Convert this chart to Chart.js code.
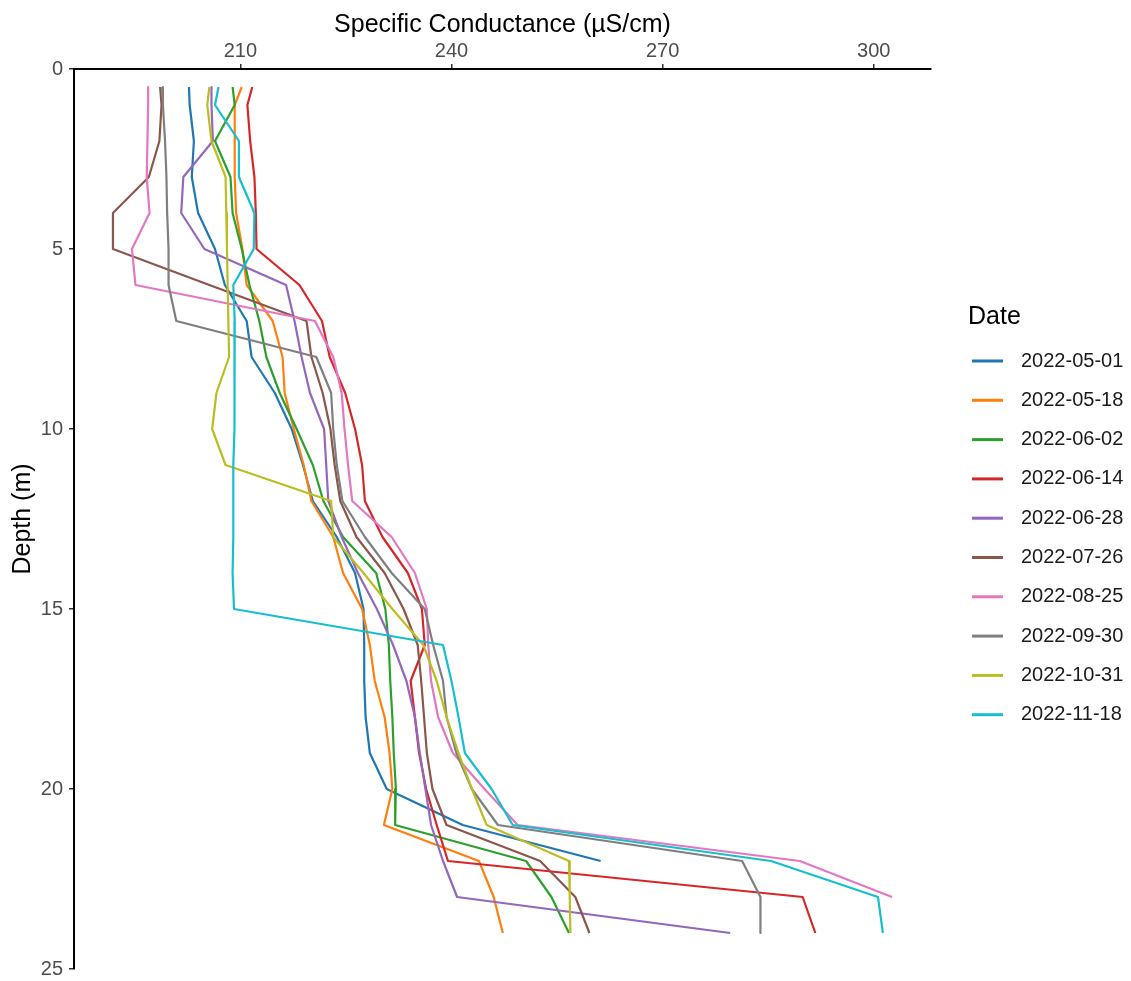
<!DOCTYPE html>
<html>
<head>
<meta charset="utf-8">
<script src="https://cdn.jsdelivr.net/npm/chart.js@4.4.1/dist/chart.umd.min.js"></script>
<style>
  html, body { margin: 0; padding: 0; background: #fff; }
  #wrap { width: 1131px; height: 981px; }
</style>
</head>
<body>
<div id="wrap"><canvas id="profileChart" width="1131" height="981"></canvas></div>
<script>
// sampling depths (m)
const depths = [0.5, 1, 2, 3, 4, 5, 6, 7, 8, 9, 10, 11, 12, 13, 14, 15, 16, 17, 18, 19, 20, 21, 22, 23, 24];

const dates = ['2022-05-01', '2022-05-18', '2022-06-02', '2022-06-14', '2022-06-28',
               '2022-07-26', '2022-08-25', '2022-09-30', '2022-10-31', '2022-11-18'];

// specific conductance (µS/cm) per profile, top to bottom
const sc0501 = [202.7, 202.8, 203.4, 203.1, 204.0, 206.4, 207.8, 210.9, 211.6, 214.9, 217.3, 218.9, 220.3, 223.7, 226.3, 227.5, 227.6, 227.6, 227.8, 228.4, 230.8, 241.6, 261.2];
const sc0518 = [210.2, 209.2, 209.2, 209.2, 209.4, 210.3, 210.9, 214.6, 216.0, 216.3, 217.6, 219.0, 220.1, 223.2, 224.6, 227.3, 228.4, 229.1, 230.5, 231.2, 231.6, 230.4, 243.9, 246.0, 247.3];
const sc0602 = [208.9, 209.2, 206.4, 208.6, 208.9, 210.2, 211.3, 212.7, 213.7, 215.6, 218.0, 220.3, 221.8, 224.6, 229.3, 230.6, 231.1, 231.3, 231.6, 231.8, 232.1, 232.0, 250.6, 254.2, 256.7];
const sc0614 = [211.7, 211.0, 211.4, 212.0, 212.2, 212.3, 218.4, 221.6, 222.7, 224.9, 226.3, 227.3, 227.7, 230.2, 233.8, 235.8, 236.2, 234.2, 234.8, 235.4, 236.4, 237.9, 239.5, 289.9, 291.7];
const sc0628 = [205.9, 205.9, 206.1, 201.9, 201.6, 204.9, 216.5, 217.7, 218.7, 219.9, 221.9, 222.2, 222.5, 224.4, 226.7, 229.4, 231.7, 233.6, 234.8, 235.5, 236.3, 237.1, 238.8, 240.8, 279.6];
const sc0726 = [198.6, 198.8, 198.5, 197.0, 191.9, 191.9, 205.6, 219.4, 220.1, 221.7, 222.8, 223.4, 224.2, 226.5, 230.5, 233.2, 235.2, 235.7, 236.1, 236.5, 237.3, 239.3, 252.6, 257.6, 259.6];
const sc0825 = [196.9, 196.9, 196.8, 196.7, 197.1, 194.6, 195.1, 220.6, 223.2, 224.4, 224.8, 225.3, 225.9, 231.5, 234.8, 236.5, 236.7, 237.1, 238.1, 240.2, 244.7, 249.4, 289.5, 302.6];
const sc0930 = [198.9, 199.0, 199.3, 199.5, 199.6, 199.8, 199.8, 200.9, 220.8, 222.9, 223.2, 223.7, 224.5, 227.7, 231.5, 236.2, 237.4, 238.8, 239.3, 240.7, 242.9, 246.6, 281.3, 283.9, 283.9];
const sc1031 = [205.6, 205.3, 205.9, 207.9, 208.0, 208.1, 208.2, 208.3, 208.4, 206.6, 206.0, 207.9, 222.9, 223.2, 227.5, 231.6, 236.0, 237.9, 239.3, 241.0, 242.9, 245.0, 256.7, 256.8, 256.9];
const sc1118 = [206.9, 206.4, 209.8, 209.8, 212.0, 211.9, 209.0, 209.2, 209.2, 209.2, 209.1, 209.0, 209.0, 209.0, 208.9, 209.1, 238.8, 240.0, 241.0, 241.9, 245.7, 248.7, 285.4, 300.6, 301.3];

const profiles = [sc0501, sc0518, sc0602, sc0614, sc0628, sc0726, sc0825, sc0930, sc1031, sc1118];

const xTicks = [210, 240, 270, 300];
const yTicks = [0, 5, 10, 15, 20, 25];

const colors = ['#1f77b4', '#ff7f0e', '#2ca02c', '#d62728', '#9467bd',
                '#8c564b', '#e377c2', '#7f7f7f', '#bcbd22', '#17becf'];

const FONT = '"Liberation Sans", Arial, sans-serif';

// x range padded by 5% each side
const allVals = profiles.flat();
const lo = Math.min(...allVals), hi = Math.max(...allVals);
const pad = (hi - lo) * 0.05;

const datasets = profiles.map((vals, i) => ({
  label: dates[i],
  data: vals.map((v, j) => ({ x: v, y: depths[j] })),
  borderColor: colors[i],
  backgroundColor: colors[i],
  borderWidth: 2.2,
  borderJoinStyle: 'round',
  pointRadius: 0,
  showLine: true,
  tension: 0,
  order: profiles.length - i
}));

// legend on the right, drawn by hand
const dateLegend = {
  id: 'dateLegend',
  afterDraw(chart) {
    const ctx = chart.ctx;
    ctx.save();
    ctx.textBaseline = 'middle';
    ctx.textAlign = 'left';
    ctx.fillStyle = '#000';
    ctx.font = '25px ' + FONT;
    ctx.fillText('Date', 968, 317);
    ctx.font = '20px ' + FONT;
    chart.data.datasets.forEach((ds, i) => {
      const y = 361 + i * 39.3;
      ctx.strokeStyle = ds.borderColor;
      ctx.lineWidth = 3;
      ctx.beginPath();
      ctx.moveTo(972, y);
      ctx.lineTo(1003, y);
      ctx.stroke();
      ctx.fillStyle = '#1a1a1a';
      ctx.fillText(ds.label, 1021, y);
    });
    ctx.restore();
  }
};

new Chart(document.getElementById('profileChart'), {
  type: 'scatter',
  data: { datasets: datasets },
  options: {
    responsive: false,
    animation: false,
    layout: { padding: { left: 0, top: 0, right: 200, bottom: 12 } },
    plugins: {
      legend: { display: false },
      tooltip: { enabled: false }
    },
    scales: {
      x: {
        type: 'linear',
        position: 'top',
        min: lo - pad,
        max: hi + pad,
        afterBuildTicks: (axis) => { axis.ticks = xTicks.map(v => ({ value: v })); },
        afterFit: (axis) => { axis.height = 69; axis.paddingLeft = 0; axis.paddingRight = 0; },
        ticks: {
          color: '#4d4d4d',
          font: { family: FONT, size: 20 },
          padding: 1,
          maxRotation: 0
        },
        grid: { drawOnChartArea: false, drawTicks: true, tickLength: 5, color: '#333', lineWidth: 1.5 },
        border: { display: true, color: '#000', width: 2 },
        title: {
          display: true,
          text: 'Specific Conductance (µS/cm)',
          color: '#000',
          font: { family: FONT, size: 25 },
          padding: { top: 10, bottom: 0 }
        }
      },
      y: {
        type: 'linear',
        reverse: true,
        min: 0,
        max: 25,
        afterBuildTicks: (axis) => { axis.ticks = yTicks.map(v => ({ value: v })); },
        afterFit: (axis) => { axis.width = 74; axis.paddingTop = 0; axis.paddingBottom = 0; },
        ticks: {
          color: '#4d4d4d',
          font: { family: FONT, size: 20 },
          padding: 6
        },
        grid: { drawOnChartArea: false, drawTicks: true, tickLength: 5, color: '#333', lineWidth: 1.5 },
        border: { display: true, color: '#000', width: 2 },
        title: {
          display: true,
          text: 'Depth (m)',
          color: '#000',
          font: { family: FONT, size: 25 },
          padding: { top: 8, bottom: 0 }
        }
      }
    }
  },
  plugins: [dateLegend]
});
</script>
</body>
</html>
